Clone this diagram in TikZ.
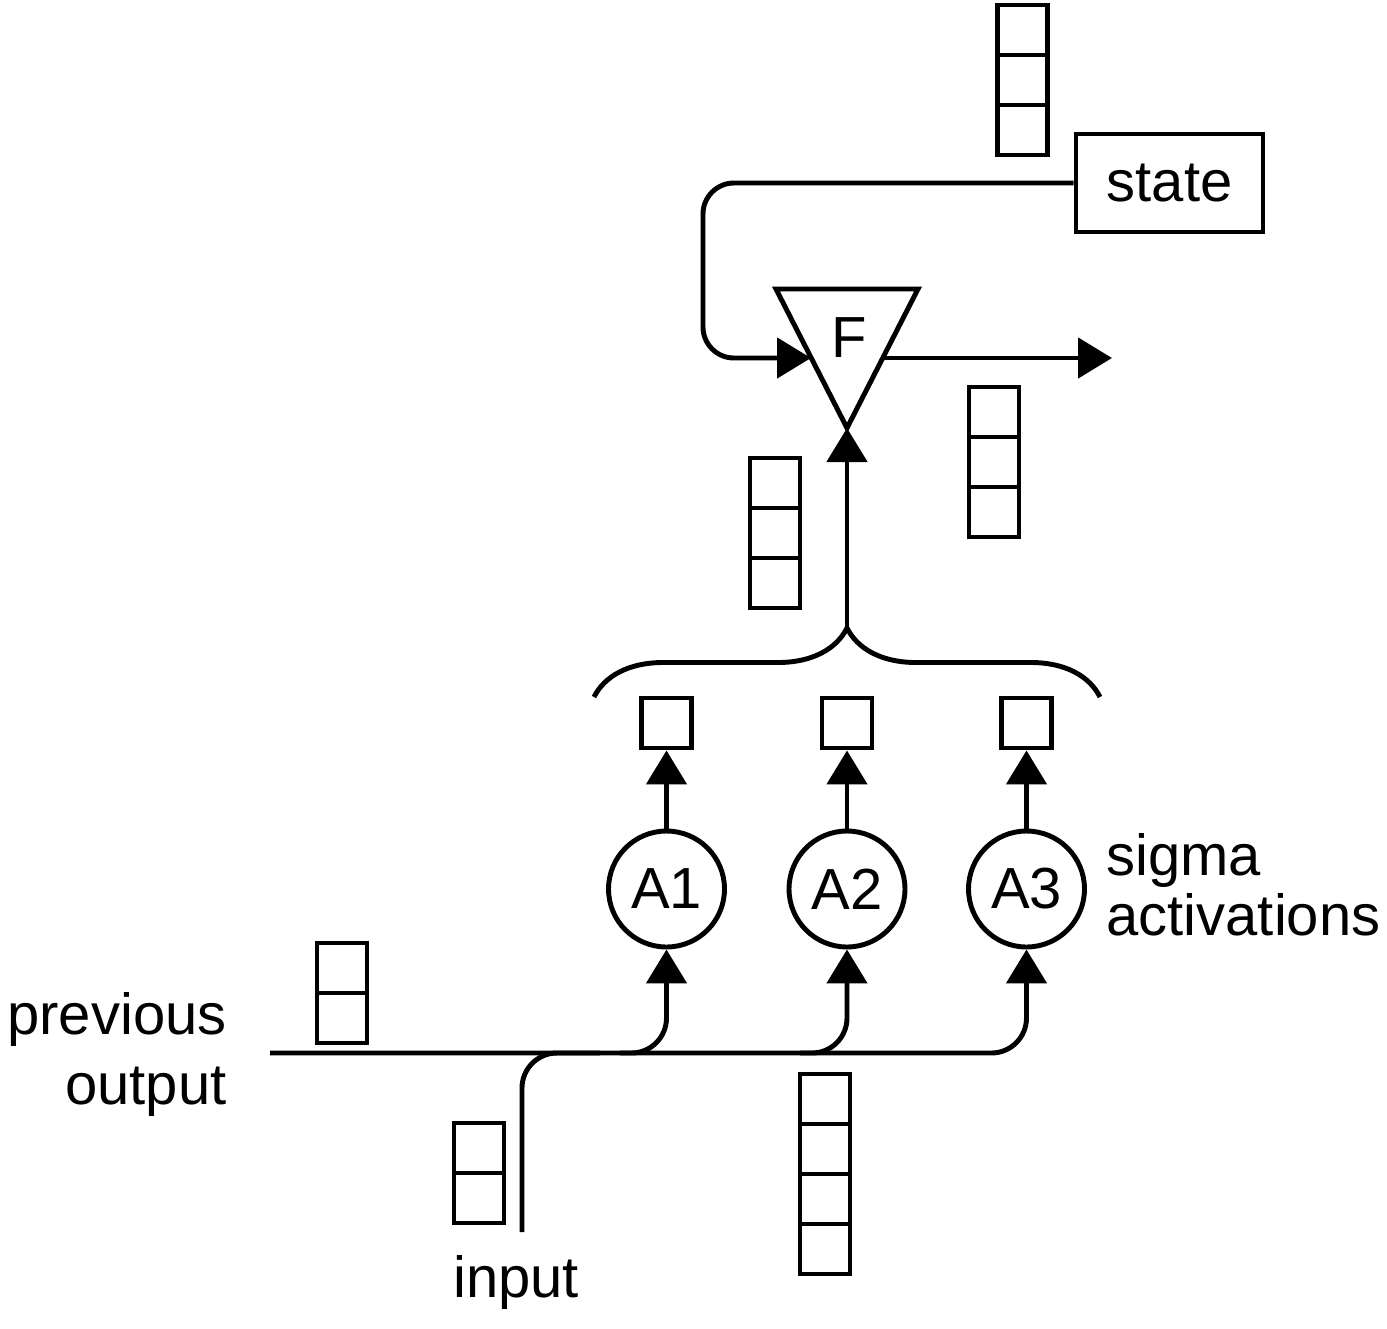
\documentclass[tikz,border=0pt]{standalone}
\usepackage{fontspec}
\setmainfont{Liberation Sans}
\usetikzlibrary{arrows.meta, positioning, calc, decorations.pathreplacing}

\begin{document}
\begin{tikzpicture}[x=0.02cm, y=-0.02cm, line width=2.8pt,
        every node/.style={font=\fontsize{33}{40}\selectfont},
        arr/.style={-{Triangle[length=0.68cm, width=0.8cm]}},
        act/.style={draw, circle, minimum size=2.32cm, inner sep=0},
        cell/.style={draw, minimum size=1cm, inner sep=0}]
    \useasboundingbox (0,0) rectangle (1387,1329);

    % 状态
    \node[draw, minimum width=3.74cm, minimum height=1.96cm] (state) at (1169.5,183) {state};

    % 三角形 F
    \coordinate (FL) at (776,289);
    \coordinate (FR) at (918,289);
    \coordinate (FB) at (847,428);
    \draw[line join=miter] (FL) -- (FR) -- (FB) -- cycle;
    \node (F) at (849,338) {F};
    \coordinate (Fin) at (811,358);
    \coordinate (Fout) at (883,358);
    \coordinate (out) at (1112,358);
    \coordinate (bend) at (703,358);
    \draw[arr, rounded corners=0.62cm] (state.west) -| (bend) -- (Fin);
    \draw[arr] (Fout) -- (out);

    % 激活
    \foreach \i/\x in {1/666.5, 2/847, 3/1026.5} {
        \node[act] (A\i) at (\x,889) {A\i};
        \node[cell] (c\i) at (\x,723) {};
        \draw[arr] (A\i) -- (c\i);
    }

    % 括号
    \draw[decorate, decoration={brace, amplitude=1.38cm}] (594,697) -- (1100,697);
    \coordinate (tip) at (847,628);
    \draw[arr] (tip) -- (FB);

    % 输入
    \coordinate (prev) at (270,1053);
    \coordinate (in) at (522,1232);
    \coordinate (j0) at (600,1053);
    \coordinate (j1) at (620,1053);
    \coordinate (j2) at (800,1053);
    \draw[arr, rounded corners=0.7cm] (prev) -| (A3.south);
    \draw[arr, rounded corners=0.7cm] (j1) -| (A1.south);
    \draw[arr, rounded corners=0.7cm] (j2) -| (A2.south);
    \draw[rounded corners=0.7cm] (in) |- (j0);

    % 向量
    \foreach \x/\y/\n in {997.5/5/3, 969/387/3, 750/458/3, 317/943/2, 454/1123/2, 800/1074/4}
        \foreach \k in {1,...,\n}
            \draw (\x,\y+50*\k-50) rectangle ++(50,50);

    % 文字
    \node[anchor=north west, align=left, inner sep=0, font=\fontsize{33}{34}\selectfont] (sig) at (1104,831) {sigma\\activations};
    \node[anchor=north east, align=right, inner sep=0] (po) at (229,990) {previous\\output};
    \node[anchor=base, inner sep=0] (inp) at (516,1297) {input};
\end{tikzpicture}
\end{document}
